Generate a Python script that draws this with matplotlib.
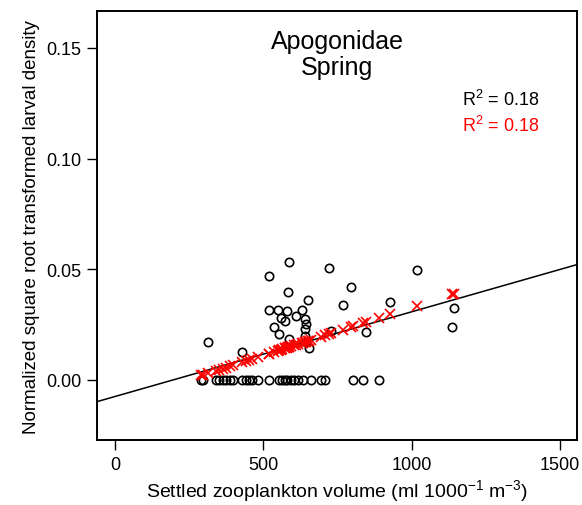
import matplotlib
matplotlib.use('Agg')
import matplotlib.pyplot as plt

plt.rcParams['font.family'] = ['Liberation Sans', 'DejaVu Sans']
plt.rcParams['mathtext.fontset'] = 'custom'
plt.rcParams['mathtext.rm'] = 'Liberation Sans'
plt.rcParams['mathtext.it'] = 'Liberation Sans:italic'

# observed larval density (open circles)
obs_x = [587, 720, 518, 583, 649, 518, 548, 581, 630, 610, 559, 573, 641, 643,
         536, 641, 553, 585, 641, 313, 429, 655, 796, 768, 926, 847, 1142, 1137,
         728, 1016, 643,
         290, 297, 339, 350, 362, 373, 388, 396, 429, 440, 452, 463, 482, 519,
         553, 564, 572, 581, 592, 604, 615, 632, 660, 694, 707, 802, 836, 890]
obs_y = [0.0532, 0.0506, 0.0468, 0.0397, 0.0360, 0.0316, 0.0316, 0.0312, 0.0316,
         0.0288, 0.0280, 0.0265, 0.0276, 0.0250, 0.0238, 0.0227, 0.0205, 0.0182,
         0.0199, 0.0170, 0.0125, 0.0145, 0.0419, 0.0337, 0.0351, 0.0215, 0.0325,
         0.0238, 0.0221, 0.0497, 0.0170,
         0, 0, 0, 0, 0, 0, 0, 0, 0, 0, 0, 0, 0, 0, 0, 0, 0, 0, 0, 0, 0, 0, 0, 0, 0,
         0, 0, 0]

# fitted values (red crosses)
fit_x = [290, 297, 313, 339, 350, 362, 373, 388, 396, 429, 440, 452, 463, 482,
         518, 519, 536, 548, 553, 559, 564, 572, 573, 581, 583, 585, 587, 592,
         604, 610, 615, 630, 632, 641, 643, 649, 655, 660, 694, 707, 720, 728,
         768, 796, 802, 836, 847, 890, 926, 1016, 1137, 1142]
fit_y = [0.0019, 0.0022, 0.0029, 0.0040, 0.0045, 0.0050, 0.0055, 0.0061, 0.0065,
         0.0079, 0.0084, 0.0089, 0.0094, 0.0102, 0.0118, 0.0118, 0.0126, 0.0131,
         0.0133, 0.0136, 0.0138, 0.0141, 0.0142, 0.0145, 0.0146, 0.0147, 0.0148,
         0.0150, 0.0155, 0.0158, 0.0160, 0.0166, 0.0167, 0.0171, 0.0172, 0.0175,
         0.0177, 0.0179, 0.0194, 0.0200, 0.0205, 0.0209, 0.0226, 0.0238, 0.0241,
         0.0256, 0.0261, 0.0279, 0.0295, 0.0334, 0.0386, 0.0389]

# regression line
intercept = -0.0076
slope = 3.83e-5

x_ticks = [0, 500, 1000, 1500]
y_ticks = [0.00, 0.05, 0.10, 0.15]

fig = plt.figure(figsize=(5.82, 5.06), dpi=100)
ax = fig.add_axes([0.1667, 0.1275, 0.8247, 0.8488])

ax.axline((0, intercept), slope=slope, color='black', lw=1.1, zorder=2)
ax.plot(obs_x, obs_y, 'o', mfc='none', mec='black', ms=6, mew=1.2, zorder=3)
ax.plot(fit_x, fit_y, 'x', color='red', ms=7, mew=1.2, zorder=4)

ax.set_xlim(-61, 1557)
ax.set_ylim(-0.0275, 0.1667)
ax.set_xticks(x_ticks)
ax.set_xticklabels(['0', '500', '1000', '1500'])
ax.set_yticks(y_ticks)
ax.set_yticklabels(['0.00', '0.05', '0.10', '0.15'])
ax.tick_params(direction='out', length=7, width=1, labelsize=13, pad=4)
for s in ax.spines.values():
    s.set_linewidth(1.4)

ax.set_xlabel('Settled zooplankton volume (ml 1000$^{-1}$ m$^{-3}$)', fontsize=14, labelpad=3)
ax.set_ylabel('Normalized square root transformed larval density', fontsize=13.5, labelpad=5)

ax.text(0.5, 0.957, 'Apogonidae\nSpring', transform=ax.transAxes, ha='center', va='top',
        fontsize=18, linespacing=1.08)
ax.text(0.76, 0.78, 'R$^2$ = 0.18', transform=ax.transAxes, fontsize=13, color='black')
ax.text(0.76, 0.72, 'R$^2$ = 0.18', transform=ax.transAxes, fontsize=13, color='red')

fig.savefig('out.png', dpi=100)
